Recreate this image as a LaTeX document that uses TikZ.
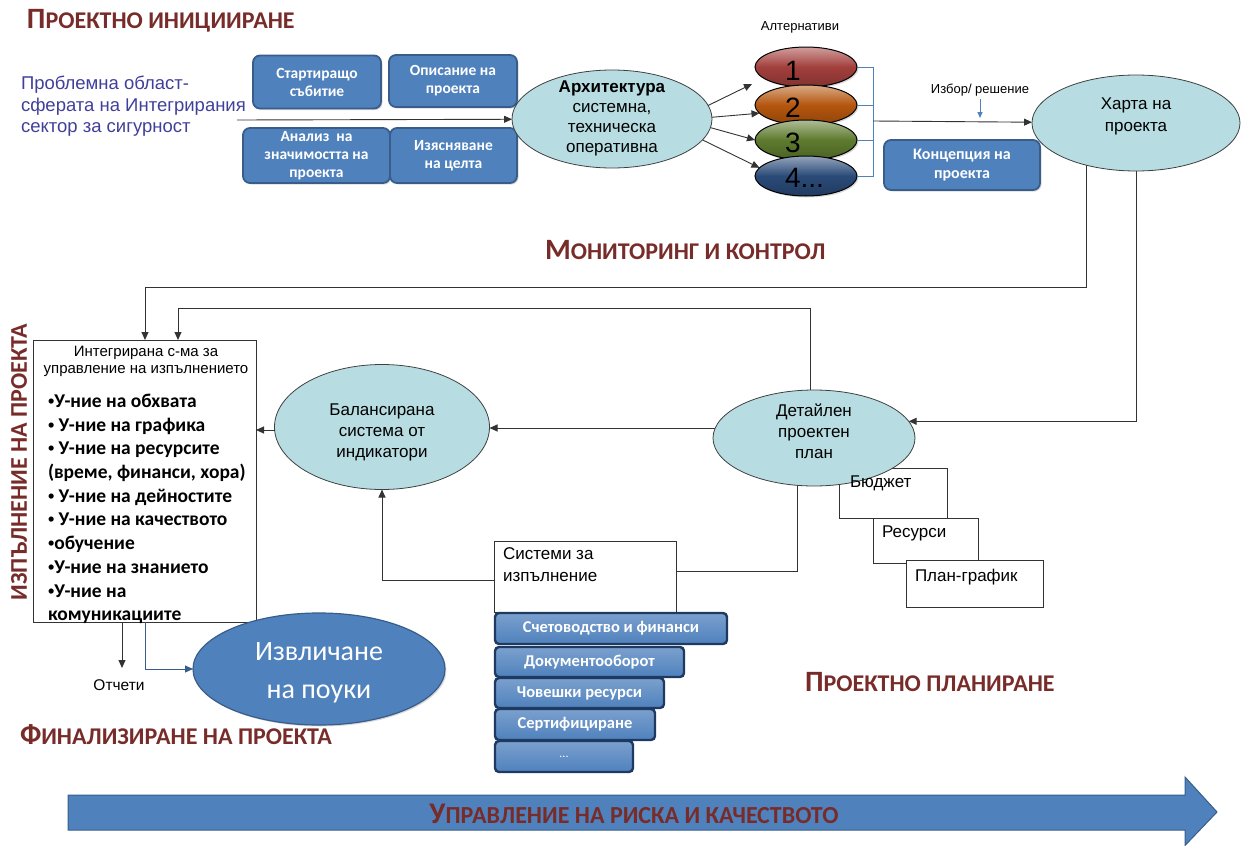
\documentclass[tikz,border=0pt]{standalone}
\usepackage{fontspec}
\setmainfont{Liberation Sans}
\newfontfamily\calfont{Carlito}
\newfontfamily\bulfont{Liberation Sans}
\usetikzlibrary{shapes.geometric,arrows.meta,backgrounds,shadows}
\definecolor{ttlred}{HTML}{772C2A}
\definecolor{bluefill}{HTML}{4F81BD}
\definecolor{bluedraw}{HTML}{385D8A}
\definecolor{bardraw}{HTML}{1F3A60}
\definecolor{tealfill}{HTML}{B7DDE2}
\definecolor{probtxt}{HTML}{403F9A}
\definecolor{altred}{HTML}{A23F3C}
\definecolor{altorange}{HTML}{B4560E}
\definecolor{altgreen}{HTML}{5E7A2E}
\definecolor{altblue}{HTML}{2A4A78}
\newcommand\fsc[4]{{\fontsize{#1}{#1}\selectfont #3}{\fontsize{#2}{#2}\selectfont #4}}
\newcommand\bul{{\bulfont\fontsize{18}{18}\selectfont •}}
\begin{document}
\begin{tikzpicture}[x=1pt,y=-1pt,
  every node/.style={inner sep=0pt, outer sep=0pt},
  ttl/.style={text=ttlred, font=\calfont\bfseries, anchor=base west},
  tealell/.style={ellipse, draw=black!75, line width=0.8pt, fill=tealfill},
  tealtxt/.style={align=center, font=\fontsize{17}{21}\selectfont},
  bluebox/.style={rectangle, rounded corners=7pt, draw=bluedraw, line width=1.8pt, fill=bluefill,
    text=white, align=center, font=\calfont\bfseries\fontsize{15.5}{18}\selectfont,
    drop shadow={opacity=0.3, shadow xshift=1.5pt, shadow yshift=-1.5pt}},
  barbox/.style={rectangle, rounded corners=4pt, draw=bardraw, line width=2.4pt,
    top color=bluefill!75!white, bottom color=bluefill, text=white, anchor=north west,
    font=\calfont\bfseries\fontsize{16.5}{16.5}\selectfont},
  altell/.style={ellipse, draw=black, line width=1pt, minimum width=102pt, minimum height=40pt,
    inner sep=0pt, top color=#1!50!white, bottom color=#1!80!black, middle color=#1,
    drop shadow={opacity=0.3, shadow xshift=1.5pt, shadow yshift=-1.5pt}},
  alttxt/.style={font=\fontsize{28}{28}\selectfont, anchor=west},
  plainbox/.style={rectangle, draw=black!80, line width=0.8pt, fill=white, anchor=north west},
  boxtxt/.style={anchor=north west, align=left, font=\fontsize{17}{22}\selectfont},
  conn/.style={draw=black!80, line width=0.9pt},
  arr/.style={conn, -{Triangle[length=8pt,width=7pt]}},
  bluearr/.style={draw=bluedraw, line width=1pt, -{Triangle[length=8pt,width=7pt]}},
  brk/.style={draw=bluefill, line width=1pt},
  lbl/.style={font=\fontsize{13}{13}\selectfont},
]
\useasboundingbox (0,0) rectangle (1243,846);

% titles
\node[ttl] (t1) at (27,28) {\fsc{29.5}{24}{П}{РОЕКТНО ИНИЦИИРАНЕ}};
\node[ttl] (t2) at (545,259) {\fsc{29.5}{24}{М}{ОНИТОРИНГ И КОНТРОЛ}};
\node[ttl] (t3) at (805,691) {\fsc{29.5}{24}{П}{РОЕКТНО ПЛАНИРАНЕ}};
\node[ttl] (t4) at (20,744) {\fsc{29.5}{24}{Ф}{ИНАЛИЗИРАНЕ НА ПРОЕКТА}};
\node[text=ttlred, font=\calfont\bfseries\fontsize{24}{24}\selectfont, rotate=90] (t5) at (19,462) {ИЗПЪЛНЕНИЕ НА ПРОЕКТА};

% initiation
\node[anchor=north west, align=left, text=probtxt, font=\fontsize{18.5}{21.5}\selectfont] (prob) at (21,76)
  {Проблемна област-\\сферата на Интегрирания\\сектор за сигурност};
\coordinate (inp) at (237,120);
\node[bluebox, minimum width=128pt, minimum height=53pt] (b1) at (317,82) {Стартиращо\\събитие};
\node[bluebox, minimum width=128pt, minimum height=52pt] (b2) at (453,81) {Описание на\\проекта};
\node[bluebox, minimum width=147pt, minimum height=55pt] (b3) at (316.5,155.5) {Анализ\ \ на\\значимостта на\\проекта};
\node[bluebox, minimum width=127pt, minimum height=55pt] (b4) at (453.5,155.5) {Изясняване\\на целта};
\node[tealell, minimum width=200pt, minimum height=98pt] (arch) at (612,119) {};
\node[tealtxt, font=\fontsize{17}{20}\selectfont] (archtxt) at (612,118) {\textbf{Архитектура}\\системна,\\техническа\\оперативна};
\draw[arr] (inp) -- (arch);

% alternatives
\node[lbl] (altlbl) at (800,27) {Алтернативи};
\node[altell=altred] (alt1) at (806,67) {};
\node[alttxt] (n1) at (785,71) {1};
\node[altell=altorange] (alt2) at (806,105) {};
\node[alttxt] (n2) at (785,108) {2};
\node[altell=altgreen] (alt3) at (806,140) {};
\node[alttxt] (n3) at (785,143) {3};
\node[altell=altblue] (alt4) at (806,176) {};
\node[alttxt] (n4) at (785,178) {4...};
\coordinate (alt1tip) at (752,84);
\draw[arr] (arch.8) -- (alt1tip);
\draw[arr] (arch.1) -- (alt2.190);
\draw[arr] (arch.-5) -- (alt3.west);
\draw[arr] (arch.-13) -- (alt4.170);
\coordinate (brx) at (873,0);
\draw[brk] (alt1.east) -- (alt1.east -| brx) -- (alt4.east -| brx) -- (alt4.east);
\draw[brk] (alt2.east) -- (alt2.east -| brx);
\draw[brk] (alt3.east) -- (alt3.east -| brx);

% charter
\node[tealell, minimum width=208pt, minimum height=96pt] (harta) at (1136,123) {};
\node[tealtxt, font=\fontsize{17}{22}\selectfont] (hartatxt) at (1136,116) {Харта на\\проекта};
\coordinate (brm) at (873,121);
\draw[arr] (brm) -- (harta);
\node[lbl] (izb) at (980,90) {Избор/ решение};
\coordinate (izbtip) at (980,118);
\draw[draw=bluefill, line width=1pt, -{Triangle[length=6pt,width=5pt]}] ([yshift=-3pt]izb.south) -- (izbtip);
\node[bluebox, minimum width=156pt, minimum height=50pt, font=\calfont\bfseries\fontsize{16}{19}\selectfont] (konc) at (962,165) {Концепция на\\проекта};

% planning boxes
\node[plainbox, minimum width=108pt, minimum height=50pt] (bud) at (839,468) {};
\node[plainbox, minimum width=105pt, minimum height=45pt] (res) at (873,518) {};
\node[plainbox, minimum width=137pt, minimum height=47pt] (plan) at (906,560) {};

% detailed plan, balanced system
\node[tealell, minimum width=202pt, minimum height=96pt] (det) at (814,438) {};
\node[tealtxt] (dettxt) at (814,431) {Детайлен\\проектен\\план};
\node[boxtxt] (budt) at (850,476) {Бюджет};
\node[boxtxt] (rest) at (882,526) {Ресурси};
\node[boxtxt] (plant) at (915,569) {План-график};
\node[tealell, minimum width=215pt, minimum height=125pt] (bal) at (382,427) {};
\node[tealtxt] (baltxt) at (382,432) {Балансирана\\система от\\индикатори};

% integrated system box
\node[plainbox, minimum width=223pt, minimum height=282pt] (intbox) at (33,340) {};
\node[anchor=north, align=center, font=\fontsize{15}{17.5}\selectfont] (inttitle) at (146,346)
  {Интегрирана с-ма за\\управление на изпълнението};
\node[anchor=north west, align=left, font=\calfont\bfseries\fontsize{19.5}{23.7}\selectfont] (intlist) at (48,394)
  {\bul У-ние на обхвата\\
   \bul\ У-ние на графика\\
   \bul\ У-ние на ресурсите\\
   (време, финанси, хора)\\
   \bul\ У-ние на дейностите\\
   \bul\ У-ние на качеството\\
   \bul обучение\\
   \bul У-ние на знанието\\
   \bul У-ние на\\
   комуникациите};

% execution systems
\node[plainbox, minimum width=182pt, minimum height=71pt] (sys) at (494,541) {};
\node[boxtxt] (systxt) at (503,548) {Системи за\\изпълнение};
\node[barbox, minimum width=232pt, minimum height=31pt] (bar1) at (495,613) {Счетоводство и финанси};
\node[barbox, minimum width=189pt, minimum height=30pt] (bar2) at (495,647) {Документооборот};
\node[barbox, minimum width=169pt, minimum height=30pt] (bar3) at (495,678) {Човешки ресурси};
\node[barbox, minimum width=160pt, minimum height=31pt] (bar4) at (495,709) {Сертифициране};
\node[barbox, minimum width=138pt, minimum height=31pt, font=\calfont\fontsize{12}{12}\selectfont] (bar5) at (495,741) {...};

% finalisation
\node[anchor=north, font=\fontsize{15.5}{15.5}\selectfont] (otch) at (119,680) {Отчети};
\coordinate (otchtip) at (122,668);
\node[ellipse, fill=bluefill, draw=bluedraw, line width=1.2pt, minimum width=252pt, minimum height=112pt,
  drop shadow={opacity=0.3, shadow xshift=1.5pt, shadow yshift=-1.5pt}] (izv) at (319,669) {};
\node[align=center, text=white, font=\calfont\fontsize{28}{38}\selectfont] (izvtxt) at (319,673) {Извличане\\на поуки};

% connectors on background
\begin{scope}[on background layer]
\coordinate (c1) at (1086,287);
\draw[arr] (harta.center -| c1) |- (c1) -| ([xshift=112pt]intbox.north west);
\coordinate (c2) at (810,308);
\draw[arr] (det.center -| c2) |- (c2) -| ([xshift=145pt]intbox.north west);
\draw[arr] (harta.center) |- (det.10);
\draw[arr] (det.center |- 0,428) -- (bal.east |- 0,428);
\coordinate (c4) at (797,571);
\draw[conn] (det.center -| c4) |- (sys.east |- c4);
\end{scope}
\draw[arr] (bal.west |- 0,430) -- (intbox.east |- 0,430);
\draw[arr] (sys.west |- 0,580) -| (bal.south);
\draw[arr] (intbox.south -| otchtip) -- (otchtip);
\draw[bluearr] ([xshift=112pt]intbox.south west) |- (izv.west);

% risk arrow
\draw[fill=bluefill, draw=bluedraw, line width=1pt] (68,795) -- (1185,795) -- (1185,777) -- (1217,812) -- (1185,845.5) -- (1185,830) -- (68,830) -- cycle;
\node[text=ttlred, font=\calfont\bfseries] (risk) at (634,814) {\scalebox{0.98}[1]{\fsc{30}{24.5}{У}{ПРАВЛЕНИЕ НА РИСКА И КАЧЕСТВОТО}}};
\end{tikzpicture}
\end{document}
